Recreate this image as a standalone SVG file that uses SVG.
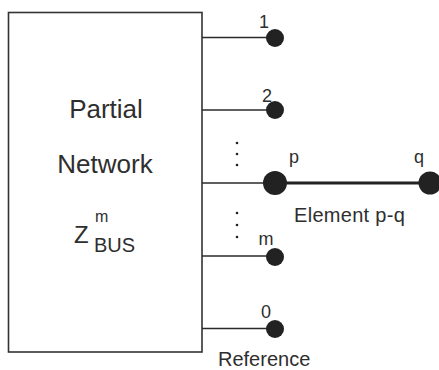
<svg xmlns="http://www.w3.org/2000/svg" width="439" height="370" viewBox="0 0 439 370">
<style>
.t{font-family:"Liberation Sans",Arial,sans-serif;fill:#2e2e2e}
.w{stroke:#2a2a2a;stroke-width:1.6;fill:none}
.d{fill:#222}
</style>
<rect width="439" height="370" fill="#fff"/>
<g id="network">
<rect x="8.5" y="12.5" width="193.5" height="339.5" fill="none" stroke="#333" stroke-width="1.6"/>
<text class="t" x="106" y="118" font-size="26" text-anchor="middle">Partial</text>
<text class="t" x="105" y="173" font-size="26" text-anchor="middle">Network</text>
<text class="t" x="74" y="243" font-size="24">Z</text>
<text class="t" x="95" y="222" font-size="16">m</text>
<text class="t" x="94" y="252" font-size="20">BUS</text>
</g>
<g id="connectors">
<line class="w" x1="202" y1="37.5" x2="275" y2="37.5"/>
<line class="w" x1="202" y1="110" x2="275" y2="110"/>
<line class="w" x1="202" y1="183" x2="275" y2="183"/>
<line class="w" x1="202" y1="256" x2="275" y2="256"/>
<line class="w" x1="202" y1="328.5" x2="275" y2="328.5"/>
<line x1="275" y1="183" x2="430" y2="183" stroke="#222" stroke-width="3.2"/>
</g>
<g id="bus1"><circle class="d" cx="275" cy="38" r="9"/><text class="t" x="264" y="28" font-size="18" text-anchor="middle">1</text></g>
<g id="bus2"><circle class="d" cx="275" cy="110" r="9"/><text class="t" x="267" y="102" font-size="18" text-anchor="middle">2</text></g>
<g id="dots1"><circle class="d" cx="237" cy="143" r="1.3"/><circle class="d" cx="237" cy="154" r="1.3"/><circle class="d" cx="237" cy="165" r="1.3"/></g>
<g id="busp"><circle class="d" cx="275" cy="183" r="12"/><text class="t" x="294" y="163" font-size="18" text-anchor="middle">p</text></g>
<g id="busq"><circle class="d" cx="430" cy="183" r="11.5"/><text class="t" x="419" y="163" font-size="18" text-anchor="middle">q</text></g>
<text class="t" x="294" y="222" font-size="20" letter-spacing="0.3">Element p-q</text>
<g id="dots2"><circle class="d" cx="237" cy="213" r="1.3"/><circle class="d" cx="237" cy="225" r="1.3"/><circle class="d" cx="237" cy="237" r="1.3"/></g>
<g id="busm"><circle class="d" cx="275" cy="257" r="9"/><text class="t" x="266" y="245" font-size="18" text-anchor="middle">m</text></g>
<g id="bus0"><circle class="d" cx="275" cy="329" r="9"/><text class="t" x="266" y="318" font-size="18" text-anchor="middle">0</text></g>
<text class="t" x="218" y="366" font-size="20">Reference</text>
</svg>
